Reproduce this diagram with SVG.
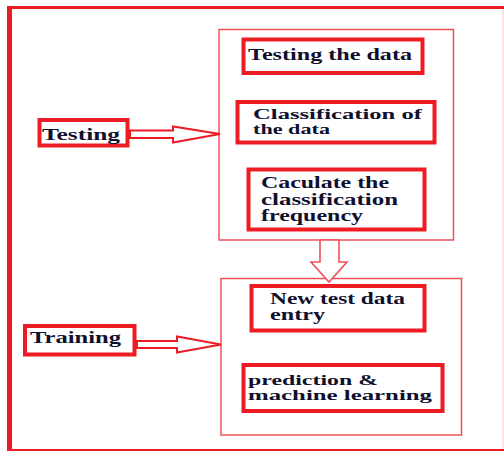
<svg xmlns="http://www.w3.org/2000/svg" width="504" height="452" viewBox="0 0 504 452">
  <style>
    .box { fill: #ffffff; stroke: #ed1c24; stroke-width: 4; }
    .panel { fill: none; stroke: #f0505a; stroke-width: 1.5; }
    .arrow { fill: #ffffff; stroke: #ed1c24; stroke-width: 2; stroke-linejoin: miter; }
    .arrow-thin { fill: #ffffff; stroke: #f0505a; stroke-width: 1.6; }
    .label { font-family: "Liberation Serif", "Times New Roman", serif; font-weight: bold; font-size: 16px; fill: #10102e; }
    .tight { font-size: 15px; }
    .frame { stroke: #ed1c24; fill: none; }
  </style>

  <rect x="0" y="0" width="504" height="452" fill="#ffffff"/>

  <!-- outer frame -->
  <g id="frame">
    <line class="frame" x1="7" y1="7.5" x2="504" y2="7.5" stroke-width="3"/>
    <line class="frame" x1="9.5" y1="6" x2="9.5" y2="451" stroke-width="5"/>
    <line class="frame" x1="7" y1="450" x2="504" y2="450" stroke-width="2"/>
    <line x1="503" y1="9" x2="503" y2="449" stroke="#f7c9cd" stroke-width="1"/>
  </g>

  <!-- panels grouping the steps -->
  <g id="testing-panel">
    <rect class="panel" x="219" y="29.5" width="234.5" height="210.5"/>
  </g>
  <g id="training-panel">
    <rect class="panel" x="221" y="278.5" width="240.5" height="156.5"/>
  </g>

  <!-- connectors -->
  <g id="connectors">
    <polygon class="arrow" points="130,130.5 173,130.5 173,126.5 220,134 173,142.5 173,138 130,138"/>
    <polygon class="arrow" points="137,341 177,341 177,336.5 221,344.5 177,352.5 177,348 137,348"/>
    <polygon class="arrow-thin" points="320,240 320,262 311,262 329,282 347,262 339,262 339,240"/>
  </g>

  <g id="testing">
    <rect class="box" x="39.5" y="120" width="88" height="25.5"/>
    <text class="label" x="42" y="140" font-size="17" textLength="78" lengthAdjust="spacingAndGlyphs">Testing</text>
  </g>

  <g id="training">
    <rect class="box" x="25" y="326" width="109.5" height="28.5"/>
    <text class="label" x="30" y="343" font-size="17" textLength="91" lengthAdjust="spacingAndGlyphs">Training</text>
  </g>

  <g id="testing-the-data">
    <rect class="box" x="243.5" y="39.5" width="179" height="33.5"/>
    <text class="label" x="248" y="60" font-size="17" textLength="164" lengthAdjust="spacingAndGlyphs">Testing the data</text>
  </g>

  <g id="classification">
    <rect class="box" x="237.5" y="102" width="197" height="40.5"/>
    <text class="label tight" x="253" y="119" textLength="169" lengthAdjust="spacingAndGlyphs">Classification of</text>
    <text class="label tight" x="253" y="134" textLength="77" lengthAdjust="spacingAndGlyphs">the data</text>
  </g>

  <g id="calculate-frequency">
    <rect class="box" x="248.5" y="169.5" width="176" height="60"/>
    <text class="label" x="261" y="188" textLength="128" lengthAdjust="spacingAndGlyphs">Caculate the</text>
    <text class="label" x="261" y="205" textLength="137" lengthAdjust="spacingAndGlyphs">classification</text>
    <text class="label" x="261" y="221" textLength="102" lengthAdjust="spacingAndGlyphs">frequency</text>
  </g>

  <g id="new-test-data">
    <rect class="box" x="251.5" y="286" width="173" height="44.5"/>
    <text class="label" x="270" y="304" textLength="135" lengthAdjust="spacingAndGlyphs">New test data</text>
    <text class="label" x="270" y="320" textLength="55" lengthAdjust="spacingAndGlyphs">entry</text>
  </g>

  <g id="prediction">
    <rect class="box" x="243.5" y="365" width="199" height="46"/>
    <text class="label tight" x="248" y="385" textLength="130" lengthAdjust="spacingAndGlyphs">prediction &amp;</text>
    <text class="label tight" x="248" y="400" textLength="184" lengthAdjust="spacingAndGlyphs">machine learning</text>
  </g>
</svg>
